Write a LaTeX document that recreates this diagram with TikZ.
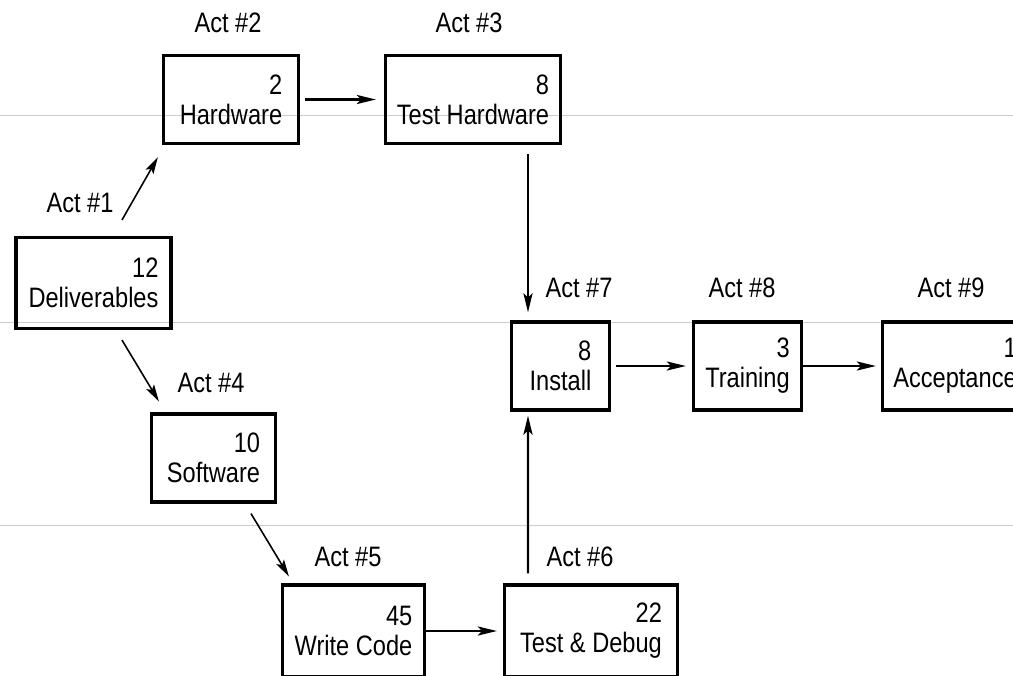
\documentclass[tikz,border=0pt]{standalone}
\usepackage{fontspec}
\setmainfont{Liberation Sans}[FakeStretch=0.84]
\usetikzlibrary{arrows.meta}
\tikzstyle{activity} =[rectangle, draw=black, line width=1.8pt, minimum height=1.76cm, align=right, font=\fontsize{16}{17}\selectfont]
\tikzstyle{actlabel} =[inner sep=0pt, font=\fontsize{16}{17}\selectfont]
\tikzstyle{arrow} =[line width=1.4pt,->,>={Stealth[length=0.38cm,width=0.18cm,inset=0.08cm]}]
\tikzstyle{thinarrow} =[line width=0.9pt,->,>={Stealth[length=0.34cm,width=0.18cm,inset=0.07cm]}]
\tikzstyle{rule} =[gray!40, line width=0.5pt]

\begin{document}
\begin{tikzpicture}[node distance=2cm]
\useasboundingbox (-4.62,-11.51) rectangle (15.64,1.99);
\clip (-4.62,-11.51) rectangle (15.64,1.99);
% faint page rules
\draw [rule] (-4.62,-0.31) -- (15.64,-0.31);
\draw [rule] (-4.62,-4.45) -- (15.64,-4.45);
\draw [rule] (-4.62,-8.51) -- (15.64,-8.51);
\node (hw) [activity, minimum width=2.7cm] at (0,0) {2\\Hardware};
\node (thw) [activity, minimum width=3.5cm, right of=hw, xshift=2.84cm] {8\\Test Hardware};
\node (inst) [activity, minimum width=1.96cm, below of=thw, xshift=1.75cm, yshift=-3.33cm] {8\\Install};
\node (tr) [activity, minimum width=2.16cm, right of=inst, xshift=1.74cm] {3\\Training};
\node (acc) [activity, minimum width=2.9cm, right of=tr, xshift=2.15cm] {1\\Acceptance};
\node (td) [activity, minimum width=3.46cm, minimum height=1.84cm, below of=inst, xshift=0.61cm, yshift=-3.3cm] {22\\Test \& Debug};
\node (wc) [activity, minimum width=2.84cm, minimum height=1.84cm, left of=td, xshift=-2.75cm] {45\\Write Code};
\node (sw) [activity, minimum width=2.48cm, above of=wc, xshift=-2.8cm, yshift=1.46cm] {10\\Software};
\node (del) [activity, minimum width=3.1cm, minimum height=1.82cm, above of=sw, xshift=-2.4cm, yshift=1.5cm] {12\\Deliverables};
% activity numbers
\node (a1) [actlabel, above of=del, xshift=-0.27cm, yshift=-0.4cm] {Act \#1};
\node (a2) [actlabel, above of=hw, xshift=-0.06cm, yshift=-0.47cm] {Act \#2};
\node (a3) [actlabel, above of=thw, xshift=-0.08cm, yshift=-0.47cm] {Act \#3};
\node (a4) [actlabel, above of=sw, xshift=-0.05cm, yshift=-0.5cm] {Act \#4};
\node (a5) [actlabel, above of=wc, xshift=-0.11cm, yshift=-0.52cm] {Act \#5};
\node (a6) [actlabel, above of=td, xshift=-0.22cm, yshift=-0.52cm] {Act \#6};
\node (a7) [actlabel, above of=inst, xshift=0.37cm, yshift=-0.44cm] {Act \#7};
\node (a8) [actlabel, above of=tr, xshift=-0.11cm, yshift=-0.44cm] {Act \#8};
\node (a9) [actlabel, above of=acc, xshift=-0.08cm, yshift=-0.44cm] {Act \#9};
\draw [thinarrow] ([xshift=0.57cm,yshift=0.32cm]del.north) -- ([xshift=-0.08cm,yshift=-0.24cm]hw.south west);
\draw [arrow, shorten <=0.1cm, shorten >=0.16cm] (hw) -- (thw);
\draw [arrow] ([xshift=1.1cm,yshift=-0.18cm]thw.south) -- ([xshift=-0.65cm,yshift=0.16cm]inst.north);
\draw [arrow, shorten <=0.1cm, shorten >=0.12cm] (inst) -- (tr);
\draw [arrow, shorten >=0.1cm] (tr) -- (acc);
\draw [thinarrow] ([xshift=0.57cm,yshift=-0.2cm]del.south) -- ([xshift=0.18cm,yshift=0.22cm]sw.north west);
\draw [thinarrow] ([xshift=0.75cm,yshift=-0.2cm]sw.south) -- ([xshift=0.16cm,yshift=0.14cm]wc.north west);
\draw [arrow, shorten >=0.12cm] (wc) -- (td);
\draw [arrow] ([xshift=-1.26cm,yshift=0.2cm]td.north) -- ([xshift=-0.65cm,yshift=-0.08cm]inst.south);
\end{tikzpicture}
\end{document}
